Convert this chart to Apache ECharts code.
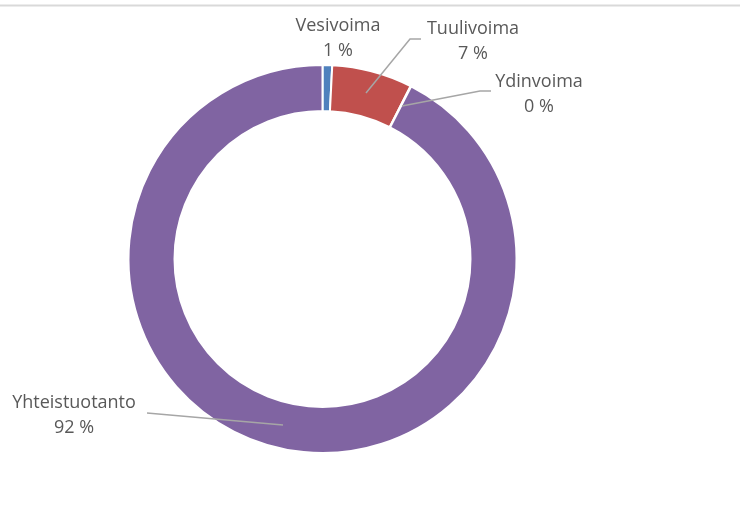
<!DOCTYPE html>
<html>
<head>
<meta charset="utf-8">
<script src="https://cdn.jsdelivr.net/npm/echarts@6/dist/echarts.min.js"></script>
<style>
  html, body { margin: 0; padding: 0; background: #fff; }
  #chart { width: 740px; height: 508px; }
</style>
</head>
<body>
<div id="chart"></div>
<script type="text/javascript">
  // tuotantomuodot ja osuudet (%)
  var sources = ['Vesivoima', 'Tuulivoima', 'Ydinvoima', 'Yhteistuotanto']
  var shares = [0.8, 6.7, 0.05, 92.45]
  var colors = ['#4F81BD', '#C0504D', '#9BBB59', '#8064A2']

  // label placement (Excel-style manual labels)
  var labelPos = [
    {x: 338, y: 38},
    {x: 473, y: 41},
    {x: 539, y: 94},
    {x: 74, y: 415}
  ]
  // leader lines drawn above the ring, like in Excel
  var leaderLines = [
    null,
    [[366, 93], [410, 39], [421, 39]],
    [[402, 106], [480, 91], [491, 91]],
    [[283, 425], [147, 413]]
  ]

  var pieData = []
  for (var i = 0; i < sources.length; i++) {
    pieData.push({
      name: sources[i],
      value: shares[i],
      itemStyle: {color: colors[i]}
    })
  }

  var graphics = [
    {
      type: 'line',
      shape: {x1: 0, y1: 5.5, x2: 740, y2: 5.5},
      style: {stroke: '#D9D9D9', lineWidth: 2},
      silent: true
    }
  ]
  leaderLines.forEach(function (pts) {
    if (!pts) return
    graphics.push({
      type: 'polyline',
      z: 100,
      shape: {points: pts},
      style: {stroke: '#A6A6A6', lineWidth: 1.5, fill: null},
      silent: true
    })
  })

  var chart = echarts.init(document.getElementById('chart'))
  chart.setOption({
    backgroundColor: '#fff',
    animation: false,
    graphic: graphics,
    series: [
      {
        type: 'pie',
        center: [322.5, 259],
        radius: [148, 194],
        startAngle: 90,
        clockwise: true,
        avoidLabelOverlap: false,
        minShowLabelAngle: 0,
        itemStyle: {borderColor: '#fff', borderWidth: 2},
        label: {
          show: true,
          color: '#595959',
          fontFamily: 'Open Sans',
          fontSize: 18,
          lineHeight: 25,
          align: 'center',
          formatter: function (p) {
            return p.name + '\n' + Math.round(p.percent) + ' %'
          }
        },
        labelLine: {show: false},
        labelLayout: function (params) {
          var pos = labelPos[params.dataIndex]
          return {x: pos.x, y: pos.y, align: 'center', verticalAlign: 'middle'}
        },
        emphasis: {disabled: true},
        data: pieData
      }
    ]
  })
</script>
</body>
</html>
